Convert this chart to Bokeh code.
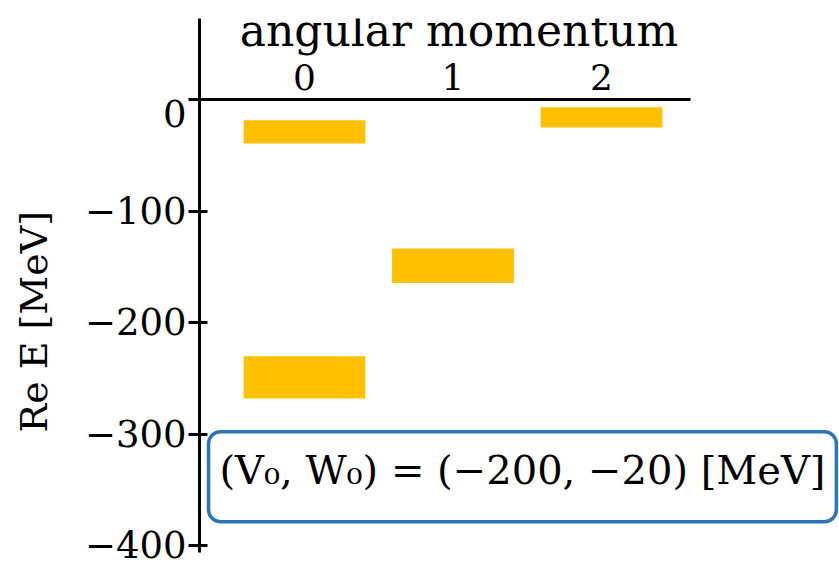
from bokeh.plotting import figure
from bokeh.models import FixedTicker, BoxAnnotation, Label, ColumnDataSource
from bokeh.core.properties import value
from bokeh.embed import file_html
from bokeh.resources import INLINE

# Bound-state levels by angular momentum
ell = [0, 0, 1, 2]
re_energy = [-249, -29, -149, -16]       # Re E [MeV]
level_spread = [38, 21, 31, 18]          # drawn bar thickness [MeV]

l_ticks = [0, 1, 2]
l_labels = ["0", "1", "2"]
y_ticks = [-400, -300, -200, -100, 0]
# the zero label sits half a line lower so it clears the horizontal axis
y_labels = ["\u2212400", "\u2212300", "\u2212200", "\u2212100", "\n0"]

SERIF = "DejaVu Serif"
BAR_COLOR = "#FFC000"
BOX_COLOR = "#2E75B6"

p = figure(width=839, height=568, output_backend="svg", toolbar_location=None,
           x_range=(-0.707, 3.603), y_range=(-406, 72.6),
           min_border_left=199, min_border_right=0,
           min_border_top=18, min_border_bottom=16,
           x_axis_location=None)
p.grid.visible = False
p.outline_line_color = None
p.background_fill_color = "white"
p.border_fill_color = "white"

# Left energy axis
ax = p.yaxis[0]
ax.ticker = FixedTicker(ticks=y_ticks)
ax.major_label_overrides = {t: s for t, s in zip(y_ticks, y_labels)}
ax.minor_tick_line_color = None
ax.major_tick_in = 8
ax.major_tick_out = 11
ax.major_tick_line_width = 3
ax.major_tick_line_color = "black"
ax.axis_line_width = 3
ax.axis_line_color = "black"
ax.major_label_standoff = 2
ax.major_label_text_font = SERIF
ax.major_label_text_font_size = "37px"
ax.major_label_text_color = "black"
ax.major_label_text_line_height = 0.72
ax.axis_label = "Re E [MeV]" + "\u00a0" * 6
ax.axis_label_text_font = SERIF
ax.axis_label_text_font_style = "normal"
ax.axis_label_text_font_size = "38px"
ax.axis_label_text_color = "black"
ax.axis_label_standoff = 26

# angular-momentum axis drawn at E = 0
p.segment(x0=[-0.78], y0=[0], x1=[2.6], y1=[0], line_color="black", line_width=3)
p.text(x=l_ticks, y=[0] * len(l_ticks), text=l_labels,
       text_align="center", text_baseline="alphabetic", y_offset=-23,
       text_font=value(SERIF), text_font_size=value("36px"), text_color="black")
p.add_layout(Label(x=1.04, y=0, text="angular momentum", y_offset=69,
                   text_align="center", text_baseline="alphabetic",
                   text_font=SERIF, text_font_size="44px", text_color="black"))

# energy levels
src = ColumnDataSource(dict(l=ell, e=re_energy, h=level_spread))
p.rect(x="l", y="e", width=0.82, height="h", source=src,
       fill_color=BAR_COLOR, line_color=None)

# potential parameters box
p.add_layout(BoxAnnotation(left=-0.646, right=3.582, top=-297.8, bottom=-378.5,
                           fill_color="white", fill_alpha=1.0,
                           line_color=BOX_COLOR, line_alpha=1.0, line_width=3.5,
                           border_radius=12))
p.add_layout(Label(x=1.468, y=-332,
                   text="(V\u2080, W\u2080) = (\u2212200, \u221220) [MeV]",
                   text_align="center", text_baseline="middle",
                   text_font=SERIF, text_font_size="40px", text_color="black"))

open("out.html", "w").write(file_html(p, INLINE))
